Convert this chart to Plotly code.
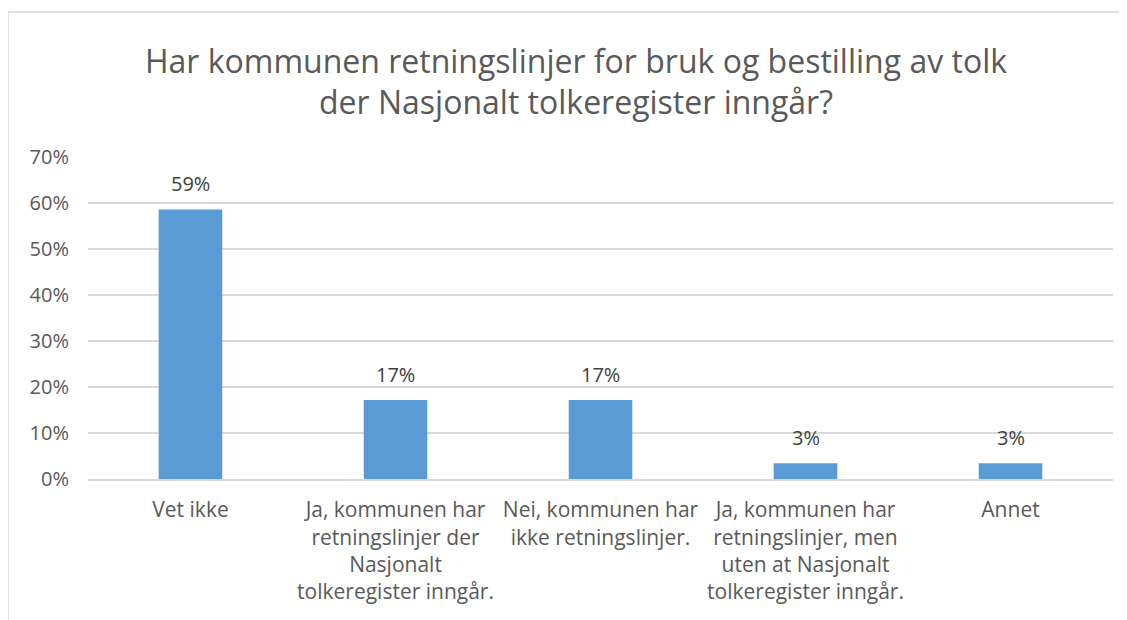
import plotly.graph_objects as go

categories = [
    "Vet ikke",
    "Ja, kommunen har<br>retningslinjer der<br>Nasjonalt<br>tolkeregister inngår.",
    "Nei, kommunen har<br>ikke retningslinjer.",
    "Ja, kommunen har<br>retningslinjer, men<br>uten at Nasjonalt<br>tolkeregister inngår.",
    "Annet",
]
values = [0.586, 0.172, 0.172, 0.034, 0.034]
labels = ["59%", "17%", "17%", "3%", "3%"]
y_ticks = [0, 0.1, 0.2, 0.3, 0.4, 0.5, 0.6, 0.7]

FONT = "Open Sans"
GREY = "#595959"

fig = go.Figure(go.Bar(
    x=categories,
    y=values,
    marker=dict(color="#5B9BD5", line=dict(width=0)),
    hoverinfo="x+y",
))

# data labels sit a bit higher above the bars than plotly's "outside" text
for cat, val, lab in zip(categories, values, labels):
    fig.add_annotation(
        x=cat, y=val, text=lab, showarrow=False,
        yanchor="bottom", yshift=10,
        font=dict(family=FONT, size=20, color="#404040"),
    )

# the page body adds 8px, so the figure is 8px smaller than the window
fig.update_layout(
    width=1119,
    height=612,
    paper_bgcolor="white",
    plot_bgcolor="white",
    margin=dict(l=80, r=14, t=149, b=141),
    bargap=0.69,
    showlegend=False,
    font=dict(family=FONT, color=GREY),
    title=dict(
        text="Har kommunen retningslinjer for bruk og bestilling av tolk<br>der Nasjonalt tolkeregister inngår?",
        x=0.5076, xanchor="center",
        y=0.894, yanchor="middle",
        font=dict(family=FONT, size=32, color=GREY),
    ),
    xaxis=dict(
        showline=True, linecolor="#D9D9D9", linewidth=2,
        tickfont=dict(family=FONT, size=21, color=GREY),
        ticks="outside", tickcolor="white", ticklen=11,
        fixedrange=True,
    ),
    yaxis=dict(
        range=[0, 0.7],
        tickvals=y_ticks,
        tickformat=".0%",
        showgrid=True, gridcolor="#D9D9D9", gridwidth=1.5,
        zeroline=False, showline=False,
        tickfont=dict(family=FONT, size=20, color=GREY),
        ticks="outside", tickcolor="white", ticklen=14,
        fixedrange=True,
    ),
)

# light chart frame
fig.add_shape(
    type="rect", xref="paper", yref="paper",
    x0=-80 / 1025, x1=1.0 + 9 / 1025, y0=-150 / 322, y1=1.0 + 145 / 322,
    line=dict(color="#D9D9D9", width=1.5),
)

fig.write_html("out.html")
